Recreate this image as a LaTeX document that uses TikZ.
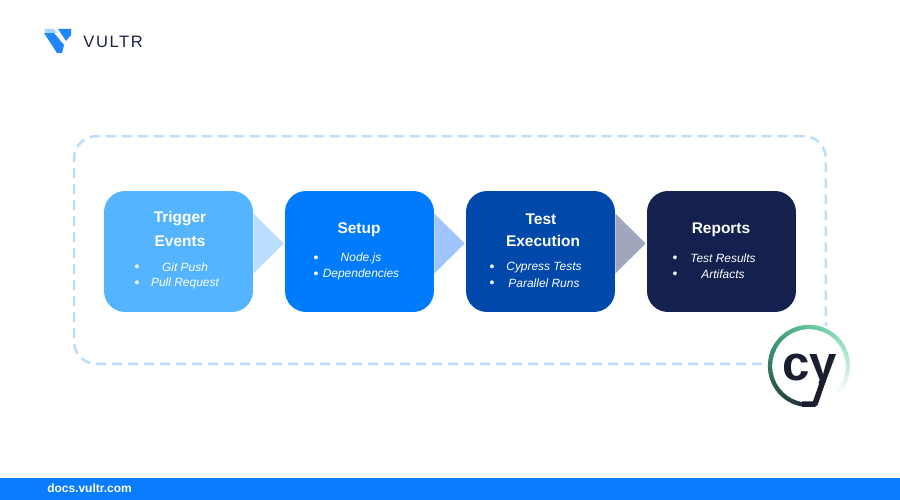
\documentclass[tikz,border=0pt]{standalone}
\usepackage{fontspec}
\setmainfont{Liberation Sans}
\usetikzlibrary{calc}

\definecolor{framecol}{HTML}{BBDCFB}
\definecolor{triggercol}{HTML}{54B4FF}
\definecolor{setupcol}{HTML}{007BFC}
\definecolor{testcol}{HTML}{0049AA}
\definecolor{reportcol}{HTML}{14214F}
\definecolor{tricola}{HTML}{B9DEFF}
\definecolor{tricolb}{HTML}{A0C4FF}
\definecolor{tricolc}{HTML}{A0A6BC}
\definecolor{footcol}{HTML}{0A7CFF}
\definecolor{logoblue}{HTML}{1E86FF}
\definecolor{logolight}{HTML}{A5D4FF}
\definecolor{inkcol}{HTML}{1B2240}
\definecolor{cyink}{HTML}{1B1E2E}
\definecolor{ringdark}{HTML}{24303A}
\definecolor{ringmid}{HTML}{3A8F6C}
\definecolor{ringlight}{HTML}{69CDA2}

\tikzset{
    stepbox/.style={rounded corners=0.42cm,minimum width=2.98cm,minimum height=2.42cm,inner sep=0pt},
    boxtitle/.style={text=white,font=\fontsize{8.8}{11}\selectfont\bfseries,inner sep=0pt},
    boxitem/.style={text=white,font=\fontsize{6.8}{8}\selectfont\itshape,inner sep=0pt},
    boxdot/.style={text=white,font=\fontsize{8}{8}\selectfont,inner sep=0pt},
    ringline/.style={line width=0.085cm}
}

\begin{document}
\begin{tikzpicture}[x=0.02cm,y=-0.02cm]
    \useasboundingbox (0,0) rectangle (900,500);

    % Frame
    \node[draw=framecol,line width=0.05cm,dash pattern=on 0.2cm off 0.12cm,rounded corners=0.45cm,
        minimum width=15.04cm,minimum height=4.56cm,inner sep=0pt] (frame) at (450,250) {};

    % Steps
    \node[stepbox,fill=triggercol] (trigger) at (178.5,251.5) {};
    \node[stepbox,fill=setupcol] (setup) at (359.5,251.5) {};
    \node[stepbox,fill=testcol] (test) at (540.5,251.5) {};
    \node[stepbox,fill=reportcol] (report) at (721.5,251.5) {};

    % Triangles between steps
    \fill[tricola] ($(trigger.east)+(0,-38)$) -- ($(setup.west)+(-1,-8)$) -- ($(trigger.east)+(0,22)$) -- cycle;
    \fill[tricolb] ($(setup.east)+(0,-38)$) -- ($(test.west)+(-1,-8)$) -- ($(setup.east)+(0,22)$) -- cycle;
    \fill[tricolc] ($(test.east)+(0,-38)$) -- ($(report.west)+(-1,-8)$) -- ($(test.east)+(0,22)$) -- cycle;

    % Trigger text
    \node[boxtitle] (triggerA) at (180,219) {Trigger};
    \node[boxtitle] (triggerB) at (180,241) {Events};
    \node[boxdot] (triggerdotA) at (137,268) {•};
    \node[boxitem] (triggeritemA) at (185,267.5) {Git Push};
    \node[boxdot] (triggerdotB) at (137,284) {•};
    \node[boxitem] (triggeritemB) at (185,283.5) {Pull Request};

    % Setup text
    \node[boxtitle] (setupA) at (359,230) {Setup};
    \node[boxdot] (setupdotA) at (316,259) {•};
    \node[boxitem] (setupitemA) at (361,258.5) {Node.js};
    \node[boxdot] (setupdotB) at (316,275) {•};
    \node[boxitem] (setupitemB) at (361,274.5) {Dependencies};

    % Test text
    \node[boxtitle] (testA) at (541,219) {Test};
    \node[boxtitle] (testB) at (543,241) {Execution};
    \node[boxdot] (testdotA) at (492,268) {•};
    \node[boxitem] (testitemA) at (544,267.5) {Cypress Tests};
    \node[boxdot] (testdotB) at (492,284) {•};
    \node[boxitem] (testitemB) at (544,283.5) {Parallel Runs};

    % Report text
    \node[boxtitle] (reportA) at (721,230) {Reports};
    \node[boxdot] (reportdotA) at (675,259) {•};
    \node[boxitem] (reportitemA) at (723,258.5) {Test Results};
    \node[boxdot] (reportdotB) at (675,275) {•};
    \node[boxitem] (reportitemB) at (723,274.5) {Artifacts};

    % Cypress logo
    \fill[white] (809,366) circle[radius=43];
    \foreach \a [evaluate=\a as \p using (\a-100)/1.0] in {100,105,...,200}
        \draw[ringline,color=ringmid!\p!ringdark] (\a:39) ++(809,366) arc[start angle=\a,end angle=\a+6,radius=39];
    \foreach \a [evaluate=\a as \p using (\a-200)/0.8] in {200,205,...,280}
        \draw[ringline,color=ringlight!\p!ringmid] (\a:39) ++(809,366) arc[start angle=\a,end angle=\a+6,radius=39];
    \foreach \a [evaluate=\a as \p using (\a-280)/1.25] in {280,285,...,405}
        \draw[ringline,color=white!\p!ringlight] (\a:39) ++(809,366) arc[start angle=\a,end angle=\a+6,radius=39];
    \node[text=cyink,font=\fontsize{28}{28}\selectfont\bfseries,inner sep=0pt,anchor=base west] (cy) at (782,380) {cy};
    \fill[white] (806,383) rectangle (819,394);
    \draw[cyink,line width=0.11cm,line join=round] (824,378) -- (815,404) -- (802,404);

    % Vultr logo
    \fill[logoblue] (44,33) -- (54,33) -- (64,45) -- (62,53) -- (57,53) -- cycle;
    \fill[logolight] (44,29) -- (54,29) -- (57,33) -- (46,33) -- cycle;
    \fill[logoblue] (58,29) -- (71,29) -- (71,35) -- (66,41) -- cycle;
    \node[text=inkcol,font=\fontsize{9.4}{9}\selectfont\addfontfeatures{LetterSpace=10},inner sep=0pt,anchor=west] (vultr) at (83,41.5) {VULTR};

    % Footer
    \fill[footcol] (0,478) rectangle (900,500);
    \node[text=white,font=\fontsize{6.8}{8}\selectfont\bfseries,inner sep=0pt,anchor=west] (docs) at (47,488) {docs.vultr.com};
\end{tikzpicture}
\end{document}
